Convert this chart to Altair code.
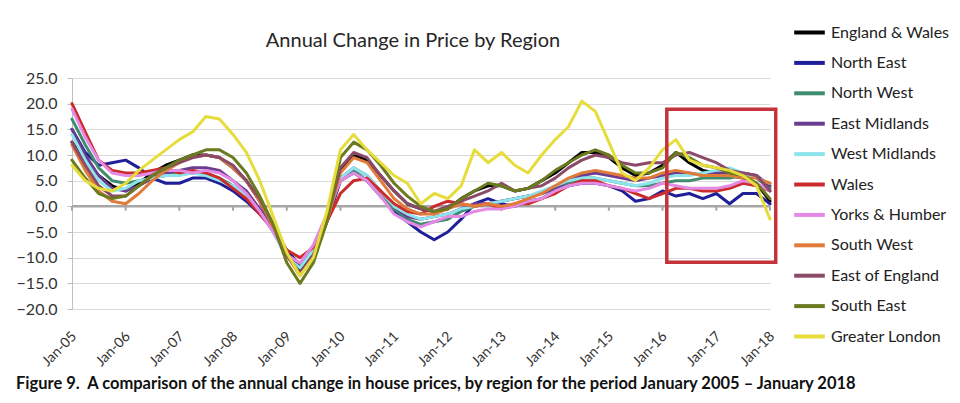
import altair as alt
import pandas as pd

# ---------------- data (quarterly readings, Jan-05 .. Jan-18) ----------------
quarters = [f"{y}-{m:02d}-01T00:00:00" for y in range(2005, 2018) for m in (1, 4, 7, 10)] + ["2018-01-01T00:00:00"]
tick_years = list(range(2005, 2019))

regions = ["England & Wales", "North East", "North West", "East Midlands", "West Midlands",
           "Wales", "Yorks & Humber", "South West", "East of England", "South East", "Greater London"]
colors = ["#000000", "#1f1f9a", "#3f8c6f", "#6a3d90", "#8ee4ec", "#cc2b2b",
          "#e48ae4", "#e07b3a", "#8a4a68", "#6b7a1e", "#e6dc3c"]

england_wales = [12.5, 9.0, 6.0, 4.0, 3.0, 4.5, 6.5, 8.0, 9.0, 10.0, 10.0, 9.5,
                 7.5, 5.0, 1.0, -4.5, -9.5, -12.5, -9.0, -2.5, 7.0, 10.0, 9.0, 6.0,
                 3.0, 0.5, -0.5, -1.0, -0.5, 1.5, 3.0, 4.0, 4.0, 3.0, 3.5, 5.0,
                 6.5, 8.5, 10.5, 10.5, 9.5, 7.5, 6.0, 6.5, 8.0, 10.5, 8.5, 7.0,
                 6.5, 6.0, 5.5, 4.5, 1.0]
north_east = [15.0, 10.5, 8.0, 8.5, 9.0, 7.5, 5.5, 4.5, 4.5, 5.5, 5.5, 4.5,
              3.0, 1.0, -1.5, -4.5, -8.5, -11.5, -9.0, -3.0, 5.0, 6.5, 5.0, 2.0,
              -1.0, -3.0, -5.0, -6.5, -5.0, -2.5, 0.5, 1.5, 0.5, 0.0, 1.0, 1.5,
              3.0, 4.0, 4.5, 4.5, 4.0, 3.0, 1.0, 1.5, 3.0, 2.0, 2.5, 1.5,
              2.5, 0.5, 2.5, 2.5, 0.5]
north_west = [17.0, 12.0, 7.5, 5.0, 4.5, 5.0, 5.5, 6.0, 6.5, 6.5, 6.5, 5.5,
              4.0, 2.0, -1.0, -5.0, -9.5, -11.5, -8.5, -2.5, 5.5, 7.0, 5.0, 2.0,
              -0.5, -2.5, -3.5, -3.0, -2.5, -1.0, 0.0, 0.5, 1.0, 1.5, 2.0, 2.5,
              3.5, 4.5, 5.5, 5.5, 5.0, 4.5, 4.0, 4.0, 4.5, 5.0, 5.0, 5.5,
              5.5, 5.5, 6.0, 5.5, 3.5]
east_midlands = [15.0, 10.0, 6.0, 3.5, 3.0, 4.0, 5.5, 6.5, 7.0, 7.5, 7.5, 7.0,
                 5.0, 3.0, -0.5, -4.5, -9.5, -12.0, -8.5, -2.5, 5.5, 7.5, 6.0, 3.0,
                 0.0, -2.0, -2.5, -2.0, -1.5, -0.5, 0.5, 0.5, 1.0, 1.5, 2.0, 2.5,
                 3.5, 5.0, 6.0, 6.5, 6.0, 5.5, 5.0, 5.5, 6.0, 6.5, 6.5, 6.0,
                 6.5, 6.5, 6.5, 6.0, 4.0]
west_midlands = [14.0, 9.0, 5.0, 3.0, 3.5, 5.0, 5.5, 6.0, 6.0, 6.5, 6.0, 5.0,
                 4.0, 2.0, -1.0, -5.0, -10.0, -12.0, -8.5, -2.0, 5.5, 7.5, 6.0, 3.0,
                 0.0, -1.5, -2.5, -2.0, -1.5, -0.5, 0.0, 0.5, 1.0, 1.5, 2.0, 3.0,
                 4.0, 5.0, 5.5, 5.5, 5.0, 4.5, 4.0, 4.5, 5.5, 6.0, 6.0, 6.5,
                 7.0, 7.5, 6.5, 5.5, 4.5]
wales = [20.0, 14.5, 9.0, 7.0, 6.5, 6.5, 7.0, 7.5, 6.5, 7.0, 6.5, 5.5,
         3.5, 1.5, -1.5, -4.5, -8.5, -10.0, -8.0, -3.0, 2.5, 5.0, 5.5, 3.0,
         0.5, -1.0, -1.5, 0.0, 1.0, 0.5, 0.0, 0.5, -0.5, 0.5, 0.5, 1.5,
         2.5, 4.0, 5.0, 5.0, 4.0, 3.5, 2.5, 1.5, 2.5, 3.5, 3.5, 3.0,
         3.0, 3.5, 4.5, 4.0, 3.0]
yorks_humber = [19.0, 13.5, 9.0, 6.5, 6.0, 6.0, 6.5, 7.0, 7.0, 6.5, 7.0, 6.5,
                5.0, 2.5, -1.0, -5.0, -9.5, -11.0, -7.5, -1.5, 5.0, 6.5, 5.0, 2.0,
                -1.5, -3.0, -4.0, -3.0, -2.0, -2.0, -1.0, -0.5, -0.5, 0.0, 1.0, 1.5,
                3.0, 4.0, 4.5, 4.5, 4.0, 3.5, 3.0, 3.5, 4.5, 4.0, 3.5, 3.5,
                3.5, 4.0, 5.0, 4.5, 3.0]
south_west = [12.0, 7.0, 3.0, 1.0, 0.5, 2.5, 5.0, 7.0, 8.5, 9.5, 10.0, 9.5,
              7.5, 5.0, 1.0, -4.0, -9.5, -13.5, -10.0, -3.0, 6.5, 9.5, 8.5, 5.0,
              1.5, -0.5, -1.5, -1.5, -0.5, 0.5, 0.0, 0.5, 0.0, 0.5, 1.5, 2.5,
              4.0, 5.5, 6.5, 7.0, 6.5, 6.0, 5.5, 5.5, 6.5, 7.0, 6.5, 6.0,
              6.0, 6.0, 5.5, 5.5, 4.5]
east_of_england = [12.5, 8.0, 4.0, 2.0, 2.0, 4.0, 6.0, 7.5, 8.5, 9.5, 10.0, 9.5,
                   8.0, 5.0, 1.5, -3.5, -9.5, -13.0, -9.5, -2.5, 7.5, 10.5, 9.5, 6.0,
                   3.0, 0.5, -0.5, -1.0, 0.0, 1.0, 2.0, 3.0, 4.5, 3.0, 3.5, 4.0,
                   5.5, 7.5, 9.0, 10.0, 9.5, 8.5, 8.0, 8.5, 8.5, 10.0, 10.5, 9.5,
                   8.5, 7.0, 6.5, 6.0, 3.0]
south_east = [9.0, 5.5, 2.5, 1.5, 2.0, 4.0, 6.0, 7.5, 9.0, 10.0, 11.0, 11.0,
              9.5, 6.5, 2.0, -3.5, -11.0, -15.0, -11.0, -3.0, 9.5, 12.5, 11.0, 8.0,
              4.5, 2.0, 0.0, -1.0, -0.5, 1.5, 3.0, 4.5, 4.0, 3.0, 3.5, 5.0,
              7.0, 8.5, 10.0, 11.0, 10.0, 8.0, 6.5, 6.5, 7.5, 10.5, 9.5, 8.0,
              7.5, 6.5, 6.0, 4.5, 1.5]
greater_london = [8.0, 5.0, 3.5, 3.0, 4.5, 7.0, 9.0, 11.0, 13.0, 14.5, 17.5, 17.0,
                  14.0, 10.5, 5.0, -2.0, -9.0, -13.5, -10.0, -1.0, 11.0, 14.0, 11.0, 8.5,
                  6.0, 4.5, 0.5, 2.5, 1.5, 4.0, 11.0, 8.5, 10.5, 8.0, 6.5, 10.0,
                  13.0, 15.5, 20.5, 18.5, 12.5, 6.5, 5.0, 7.5, 11.0, 13.0, 9.0, 8.0,
                  7.5, 7.0, 6.0, 4.0, -2.5]

series_values = [england_wales, north_east, north_west, east_midlands, west_midlands,
                 wales, yorks_humber, south_west, east_of_england, south_east, greater_london]

title_text = "Annual Change in Price by Region"
caption_text = ("Figure 9.\u00a0 A comparison of the annual change in house prices, by region "
                "for the period January 2005 \u2013 January 2018")

# highlight box (data coordinates)
box_x = ["2016-01-30T00:00:00"]
box_x2 = ["2018-02-09T00:00:00"]
box_y = [18.9]
box_y2 = [-10.9]

# ---------------- tables ----------------
rows = []
for k, (name, vals) in enumerate(zip(regions, series_values)):
    for d, v in zip(quarters, vals):
        rows.append({"date": d, "region": name, "value": v, "k": k})
df = pd.DataFrame(rows)

ticks_df = pd.DataFrame({"date": [f"{y}-01-01T00:00:00" for y in tick_years],
                         "y0": [0.0] * len(tick_years), "y1": [-0.85] * len(tick_years)})
zero_df = pd.DataFrame({"v": [0.0]})
box_df = pd.DataFrame({"x0": box_x, "x1": box_x2, "y0": box_y, "y1": box_y2})

FONT = "Lato"
x_scale = alt.Scale(domain=[alt.DateTime(year=2005, month=1, date=1),
                            alt.DateTime(year=2018, month=1, date=1)])
y_scale = alt.Scale(domain=[-20, 25], nice=False)

x_axis = alt.Axis(values=[alt.DateTime(year=y, month=1, date=1) for y in tick_years],
                  format="%b-%y", labelAngle=315, labelAlign="right", labelBaseline="middle",
                  labelPadding=25, labelOffset=2, labelFontSize=14, labelFont=FONT,
                  labelColor="#333333", domain=False, ticks=False, grid=False, labelOverlap=False)
y_axis = alt.Axis(values=list(range(-20, 30, 5)), format=".1f", labelFontSize=16, labelFont=FONT,
                  labelColor="#333333", labelPadding=10, tickSize=5, tickColor="#bfbfbf",
                  domainColor="#bfbfbf", grid=True, gridColor="#d9d9d9", gridWidth=1.2)

zero_line = alt.Chart(zero_df).mark_rule(color="#a6a6a6", strokeWidth=2.5).encode(
    y=alt.Y("v:Q", scale=y_scale, axis=y_axis, title="")
)
zero_ticks = alt.Chart(ticks_df).mark_rule(color="#a6a6a6", strokeWidth=2).encode(
    x=alt.X("date:T", scale=x_scale, axis=x_axis, title=""),
    y=alt.Y("y0:Q", scale=y_scale, axis=y_axis, title=""),
    y2="y1:Q",
)

legend = alt.Legend(orient="none", legendX=720, legendY=-63, title=None, symbolType="stroke",
                    symbolStrokeWidth=4, symbolSize=936, rowPadding=4.4, labelOffset=4,
                    labelFont=FONT, labelFontSize=16, labelColor="#222222", padding=0,
                    labelLimit=300)

lines = alt.Chart(df).mark_line(strokeWidth=3, strokeJoin="round", strokeCap="round").encode(
    x=alt.X("date:T", scale=x_scale, axis=x_axis, title=""),
    y=alt.Y("value:Q", scale=y_scale, axis=y_axis, title=""),
    color=alt.Color("region:N", scale=alt.Scale(domain=regions, range=colors), legend=legend),
    detail="region:N",
)

box = alt.Chart(box_df).mark_rect(fillOpacity=0, stroke="#c4323a", strokeWidth=3.5).encode(
    x=alt.X("x0:T", scale=x_scale, axis=x_axis, title=""),
    x2="x1:T",
    y=alt.Y("y0:Q", scale=y_scale, axis=y_axis, title=""),
    y2="y1:Q",
)

title_mark = alt.Chart(pd.DataFrame({"t": [title_text]})).mark_text(
    font=FONT, fontSize=20, color="#262626", align="center", baseline="alphabetic"
).encode(text="t:N", x=alt.value(341), y=alt.value(-31))

caption_mark = alt.Chart(pd.DataFrame({"t": [caption_text]})).mark_text(
    font=FONT, fontSize=16.5, fontWeight="bold", color="#111111", align="left", baseline="alphabetic"
).encode(text="t:N", x=alt.value(-56), y=alt.value(311))

chart = alt.layer(zero_line, zero_ticks, lines, box, title_mark, caption_mark).properties(
    width=698, height=231,
    autosize=alt.AutoSizeParams(type="none"),
    padding={"left": 64, "top": 70, "right": 182, "bottom": 86},
    background="white",
).configure_view(strokeWidth=0)

chart.save("out.html", embed_options={"renderer": "svg", "actions": False})
